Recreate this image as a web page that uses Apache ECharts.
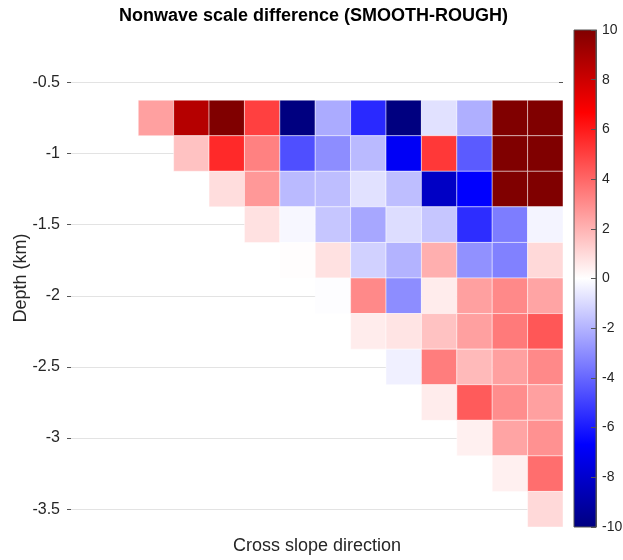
<!DOCTYPE html>
<html>
<head>
<meta charset="utf-8">
<script src="https://cdn.jsdelivr.net/npm/echarts@6/dist/echarts.min.js"></script>
<style>
  html, body { margin: 0; padding: 0; background: #ffffff; }
  #chart { width: 623px; height: 560px; }
</style>
</head>
<body>
<div id="chart"></div>
<script>
// Depth of each row of cells (km) and the cross-slope column index.
const depths = [-0.75, -1.0, -1.25, -1.5, -1.75, -2.0, -2.25, -2.5, -2.75, -3.0, -3.25, -3.5];
const columns = [1, 2, 3, 4, 5, 6, 7, 8, 9, 10, 11, 12];

// Nonwave scale difference (SMOOTH - ROUGH) per row.
// Row n (0-based) starts at column n + 1 and runs to the last column.
const rowD075 = [2.5, 8.6, 10, 5.0, -10, -2.2, -5.6, -10, -0.8, -2.1, 10, 10];
const rowD100 = [1.6, 5.6, 3.3, -4.6, -3.0, -1.8, -6.9, 5.2, -4.3, 10, 10];
const rowD125 = [0.9, 2.7, -1.8, -1.7, -0.8, -1.7, -8.2, -6.7, 10, 10];
const rowD150 = [0.8, -0.2, -1.5, -2.3, -0.9, -1.5, -5.5, -3.4, -0.3];
const rowD175 = [0.05, 0.8, -1.2, -2.0, 2.1, -2.9, -3.3, 1.0];
const rowD200 = [-0.05, 3.1, -3.0, 0.5, 2.5, 3.1, 2.4];
const rowD225 = [0.5, 0.7, 1.6, 2.5, 3.5, 4.4];
const rowD250 = [-0.4, 3.4, 1.8, 2.5, 3.1];
const rowD275 = [0.5, 4.3, 3.0, 2.5];
const rowD300 = [0.4, 2.4, 2.9];
const rowD325 = [0.4, 3.8];
const rowD350 = [1.0];

const rows = [rowD075, rowD100, rowD125, rowD150, rowD175, rowD200,
              rowD225, rowD250, rowD275, rowD300, rowD325, rowD350];

// Axis ticks
const depthTicks = [-3.5, -3, -2.5, -2, -1.5, -1, -0.5];
const colorMin = -10;
const colorMax = 10;
const colorTickStep = 2;

// Diverging blue-white-red palette, evenly spaced from min to max.
const palette = ['#000080', '#0000ff', '#8080ff', '#ffffff', '#ff8080', '#ff0000', '#800000'];

// [column, depth, value] triples for the cells
const cells = [];
rows.forEach((vals, r) => {
  vals.forEach((v, k) => {
    cells.push([columns[r + k], depths[r], v]);
  });
});

const FONT = 'Liberation Sans, Arial, Helvetica, sans-serif';
const TEXT = '#262626';

const chart = echarts.init(document.getElementById('chart'), null, { renderer: 'canvas' });

chart.setOption({
  animation: false,
  backgroundColor: '#ffffff',
  textStyle: { fontFamily: FONT },
  title: {
    text: 'Nonwave scale difference (SMOOTH-ROUGH)',
    left: 119,
    top: 7,
    padding: 0,
    textStyle: { fontFamily: FONT, fontSize: 18, fontWeight: 'bold', color: '#000000' }
  },
  grid: [
    { left: 71, top: 29, width: 492, height: 498, outerBoundsMode: 'none', containLabel: false },
    { left: 574, top: 30, width: 22, height: 497, outerBoundsMode: 'none', containLabel: false }
  ],
  xAxis: [
    {
      gridIndex: 0, type: 'value', min: -1.4, max: 12.5,
      axisLine: { show: false, onZero: false }, axisTick: { show: false },
      axisLabel: { show: false }, splitLine: { show: false },
      name: 'Cross slope direction', nameLocation: 'middle', nameGap: 10,
      nameMoveOverlap: false,
      nameTextStyle: { fontFamily: FONT, fontSize: 18, color: TEXT }
    },
    {
      gridIndex: 1, type: 'value', min: 0, max: 1,
      axisLine: { show: false, onZero: false }, axisTick: { show: false },
      axisLabel: { show: false }, splitLine: { show: false }
    }
  ],
  yAxis: [
    {
      gridIndex: 0, type: 'value', min: -3.625, max: -0.125, position: 'left',
      axisLine: { show: false, onZero: false },
      axisTick: { show: true, inside: false, length: 4, customValues: depthTicks,
                  lineStyle: { color: '#555555' } },
      axisLabel: { margin: 11, fontSize: 16, color: TEXT, fontFamily: FONT, customValues: depthTicks },
      splitLine: { show: true, lineStyle: { color: '#e3e3e3', width: 1 } },
      name: 'Depth (km)', nameLocation: 'middle', nameGap: 41,
      nameMoveOverlap: false,
      nameTextStyle: { fontFamily: FONT, fontSize: 18, color: TEXT }
    },
    {
      gridIndex: 0, type: 'value', min: -3.625, max: -0.125, position: 'right',
      axisLine: { show: false, onZero: false },
      axisTick: { show: true, inside: true, length: 4, customValues: depthTicks,
                  lineStyle: { color: '#555555' } },
      axisLabel: { show: false }, splitLine: { show: false }
    },
    {
      gridIndex: 1, type: 'value', min: colorMin, max: colorMax, interval: colorTickStep,
      position: 'right', z: 10,
      axisLine: { show: true, onZero: false, lineStyle: { color: '#555555', width: 1 } },
      axisTick: { show: true, inside: true, length: 5, lineStyle: { color: '#555555' } },
      axisLabel: { margin: 6, fontSize: 14, color: TEXT, fontFamily: FONT },
      splitLine: { show: false }
    }
  ],
  visualMap: {
    show: false,
    type: 'continuous',
    min: colorMin,
    max: colorMax,
    dimension: 2,
    seriesIndex: 0,
    inRange: { color: palette }
  },
  series: [
    {
      type: 'custom',
      xAxisIndex: 0,
      yAxisIndex: 0,
      data: cells,
      encode: { x: 0, y: 1 },
      renderItem: function (params, api) {
        const c = api.value(0);
        const d = api.value(1);
        const p0 = api.coord([c - 0.5, d + 0.125]);
        const p1 = api.coord([c + 0.5, d - 0.125]);
        return {
          type: 'rect',
          shape: { x: p0[0], y: p0[1], width: p1[0] - p0[0], height: p1[1] - p0[1] },
          style: { fill: api.visual('color'), stroke: 'rgba(255,255,255,0.45)', lineWidth: 1 }
        };
      }
    },
    {
      // colour bar
      type: 'custom',
      xAxisIndex: 1,
      yAxisIndex: 2,
      data: [[0, colorMax, 1, colorMin]],
      encode: { x: [0, 2], y: [1, 3] },
      renderItem: function (params, api) {
        const p0 = api.coord([api.value(0), api.value(1)]);
        const p1 = api.coord([api.value(2), api.value(3)]);
        const n = palette.length;
        const stops = palette.map((col, i) => ({ offset: 1 - i / (n - 1), color: col }))
                             .sort((a, b) => a.offset - b.offset);
        return {
          type: 'rect',
          shape: { x: p0[0], y: p0[1], width: p1[0] - p0[0], height: p1[1] - p0[1] },
          style: {
            fill: new echarts.graphic.LinearGradient(0, 0, 0, 1, stops),
            stroke: '#555555',
            lineWidth: 1
          }
        };
      }
    }
  ]
});
</script>
</body>
</html>
